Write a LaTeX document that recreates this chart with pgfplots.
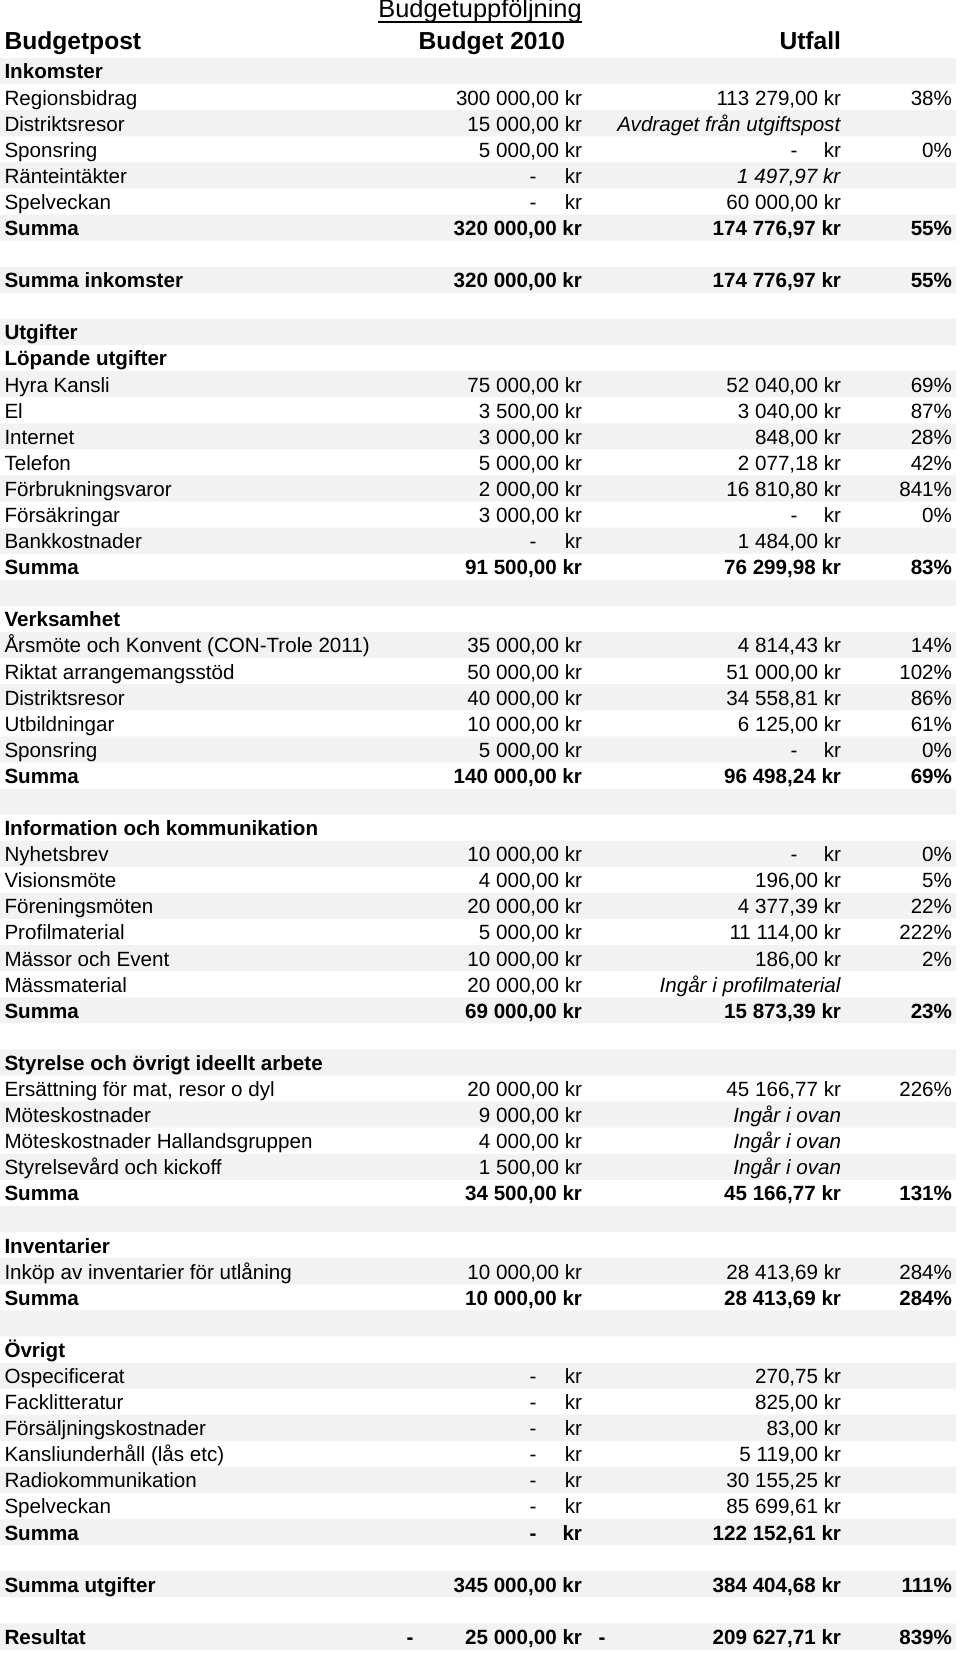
\documentclass[border=0pt]{standalone}
\usepackage{pgfplots}
\pgfplotsset{compat=1.18}
\usepackage{fontspec}
\setmainfont{Liberation Sans}
\definecolor{band}{RGB}{242,242,242}
\tikzset{
 T/.style={inner sep=0pt, outer sep=0pt, font=\fontsize{10.3}{12}\selectfont},
 TB/.style={inner sep=0pt, outer sep=0pt, font=\fontsize{10.3}{12}\selectfont\bfseries},
 H/.style={inner sep=0pt, outer sep=0pt, font=\fontsize{12.3}{14}\selectfont\bfseries},
}
\newcommand\Row[6][T]{%
 \pgfmathsetmacro\yy{79+26.09*#2}%
 \node[#1,anchor=base west] at (4.5,\yy) {#3};%
 \node[#1,anchor=base east] at (582,\yy) {#4};%
 \node[#1,anchor=base east] at (841,\yy) {#5};%
 \node[#1,anchor=base east] at (952,\yy) {#6};%
}
\newcommand\BD[2][T]{%
 \pgfmathsetmacro\yy{79+26.09*#2}%
 \node[#1,anchor=base] at (533,\yy) {-};%
 \node[#1,anchor=base east] at (582,\yy) {kr};%
}
\newcommand\UD[2][T]{%
 \pgfmathsetmacro\yy{79+26.09*#2}%
 \node[#1,anchor=base] at (794,\yy) {-};%
 \node[#1,anchor=base east] at (841,\yy) {kr};%
}
\begin{document}
\begin{tikzpicture}
\useasboundingbox (0,0) rectangle (480pt,826.5pt);
\begin{axis}[
  scale only axis, width=480pt, height=826.5pt,
  xmin=0, xmax=960, ymin=0, ymax=1653, y dir=reverse,
  axis lines=none, ticks=none, clip=false,
  anchor=south west, at={(0,0)}]
\addplot[xbar, bar width=26.09, draw=none, fill=band] coordinates {
 (956,71.05) (956,123.23) (956,175.41) (956,227.59) (956,279.77) (956,331.95)
 (956,384.13) (956,436.31) (956,488.49) (956,540.67) (956,592.85) (956,645.03)
 (956,697.21) (956,749.39) (956,801.57) (956,853.75) (956,905.93) (956,958.11)
 (956,1010.29) (956,1062.47) (956,1114.65) (956,1166.83) (956,1219.01) (956,1271.19)
 (956,1323.37) (956,1375.55) (956,1427.73) (956,1479.91) (956,1532.09) (956,1584.27)
 (956,1636.45)};
\end{axis}
\begin{scope}[x=0.5pt, y=-0.5pt, shift={(0pt,826.5pt)}]
% title and header
\node[inner sep=0pt, anchor=base west, font=\fontsize{12.7}{14}\selectfont] at (378,17.5) {Budgetuppföljning};
\draw[line width=0.6pt] (378,22) -- (582,22);
\node[H,anchor=base west] at (4.5,50) {Budgetpost};
\node[H,anchor=base east] at (565,50) {Budget 2010};
\node[H,anchor=base east] at (841,50) {Utfall};
% Inkomster
\Row[TB]{0}{Inkomster}{}{}{}
\Row{1}{Regionsbidrag}{300 000,00 kr}{113 279,00 kr}{38\%}
\Row{2}{Distriktsresor}{15 000,00 kr}{\textit{Avdraget från utgiftspost}}{}
\Row{3}{Sponsring}{5 000,00 kr}{}{0\%}\UD{3}
\Row{4}{Ränteintäkter}{}{\textit{1 497,97 kr}}{}\BD{4}
\Row{5}{Spelveckan}{}{60 000,00 kr}{}\BD{5}
\Row[TB]{6}{Summa}{320 000,00 kr}{174 776,97 kr}{55\%}
\Row[TB]{8}{Summa inkomster}{320 000,00 kr}{174 776,97 kr}{55\%}
% Utgifter
\Row[TB]{10}{Utgifter}{}{}{}
\Row[TB]{11}{Löpande utgifter}{}{}{}
\Row{12}{Hyra Kansli}{75 000,00 kr}{52 040,00 kr}{69\%}
\Row{13}{El}{3 500,00 kr}{3 040,00 kr}{87\%}
\Row{14}{Internet}{3 000,00 kr}{848,00 kr}{28\%}
\Row{15}{Telefon}{5 000,00 kr}{2 077,18 kr}{42\%}
\Row{16}{Förbrukningsvaror}{2 000,00 kr}{16 810,80 kr}{841\%}
\Row{17}{Försäkringar}{3 000,00 kr}{}{0\%}\UD{17}
\Row{18}{Bankkostnader}{}{1 484,00 kr}{}\BD{18}
\Row[TB]{19}{Summa}{91 500,00 kr}{76 299,98 kr}{83\%}
% Verksamhet
\Row[TB]{21}{Verksamhet}{}{}{}
\Row{22}{Årsmöte och Konvent (CON-Trole 2011)}{35 000,00 kr}{4 814,43 kr}{14\%}
\Row{23}{Riktat arrangemangsstöd}{50 000,00 kr}{51 000,00 kr}{102\%}
\Row{24}{Distriktsresor}{40 000,00 kr}{34 558,81 kr}{86\%}
\Row{25}{Utbildningar}{10 000,00 kr}{6 125,00 kr}{61\%}
\Row{26}{Sponsring}{5 000,00 kr}{}{0\%}\UD{26}
\Row[TB]{27}{Summa}{140 000,00 kr}{96 498,24 kr}{69\%}
% Information
\Row[TB]{29}{Information och kommunikation}{}{}{}
\Row{30}{Nyhetsbrev}{10 000,00 kr}{}{0\%}\UD{30}
\Row{31}{Visionsmöte}{4 000,00 kr}{196,00 kr}{5\%}
\Row{32}{Föreningsmöten}{20 000,00 kr}{4 377,39 kr}{22\%}
\Row{33}{Profilmaterial}{5 000,00 kr}{11 114,00 kr}{222\%}
\Row{34}{Mässor och Event}{10 000,00 kr}{186,00 kr}{2\%}
\Row{35}{Mässmaterial}{20 000,00 kr}{\textit{Ingår i profilmaterial}}{}
\Row[TB]{36}{Summa}{69 000,00 kr}{15 873,39 kr}{23\%}
% Styrelse
\Row[TB]{38}{Styrelse och övrigt ideellt arbete}{}{}{}
\Row{39}{Ersättning för mat, resor o dyl}{20 000,00 kr}{45 166,77 kr}{226\%}
\Row{40}{Möteskostnader}{9 000,00 kr}{\textit{Ingår i ovan}}{}
\Row{41}{Möteskostnader Hallandsgruppen}{4 000,00 kr}{\textit{Ingår i ovan}}{}
\Row{42}{Styrelsevård och kickoff}{1 500,00 kr}{\textit{Ingår i ovan}}{}
\Row[TB]{43}{Summa}{34 500,00 kr}{45 166,77 kr}{131\%}
% Inventarier
\Row[TB]{45}{Inventarier}{}{}{}
\Row{46}{Inköp av inventarier för utlåning}{10 000,00 kr}{28 413,69 kr}{284\%}
\Row[TB]{47}{Summa}{10 000,00 kr}{28 413,69 kr}{284\%}
% Övrigt
\Row[TB]{49}{Övrigt}{}{}{}
\Row{50}{Ospecificerat}{}{270,75 kr}{}\BD{50}
\Row{51}{Facklitteratur}{}{825,00 kr}{}\BD{51}
\Row{52}{Försäljningskostnader}{}{83,00 kr}{}\BD{52}
\Row{53}{Kansliunderhåll (lås etc)}{}{5 119,00 kr}{}\BD{53}
\Row{54}{Radiokommunikation}{}{30 155,25 kr}{}\BD{54}
\Row{55}{Spelveckan}{}{85 699,61 kr}{}\BD{55}
\Row[TB]{56}{Summa}{}{122 152,61 kr}{}\BD[TB]{56}
\Row[TB]{58}{Summa utgifter}{345 000,00 kr}{384 404,68 kr}{111\%}
% Resultat
\Row[TB]{60}{Resultat}{25 000,00 kr}{209 627,71 kr}{839\%}
\node[TB,anchor=base] at (410,1644.4) {-};
\node[TB,anchor=base] at (602,1644.4) {-};
\end{scope}
\end{tikzpicture}
\end{document}
